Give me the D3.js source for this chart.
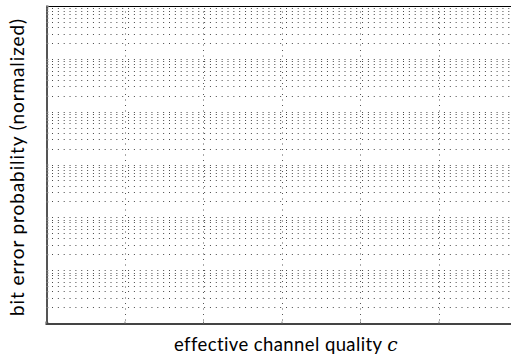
<!DOCTYPE html>
<html>
<head>
<meta charset="utf-8">
<script src="https://d3js.org/d3.v7.min.js"></script>
<style>
  body { margin: 0; background: #fff; }
  text { font-family: "Lato", "DejaVu Sans", sans-serif; fill: #000; }
</style>
</head>
<body>
<script>
// axis ranges (no series in this figure, just the empty grid)
var xMajor = [0, 1, 2, 3, 4, 5, 6];
var yDomain = [1e-6, 1];
var xLabel = "effective channel quality ";
var xLabelVar = "c";
var yLabel = "bit error probability (normalized)";

var width = 511,
    height = 355,
    margin = { top: 6, right: -6, bottom: 32, left: 46 };

var svg = d3.select("body").append("svg")
    .attr("width", width)
    .attr("height", height);

var x = d3.scaleLinear()
    .domain(d3.extent(xMajor))
    .range([margin.left, width - margin.right]);

var y = d3.scaleLog()
    .domain(yDomain)
    .range([height - margin.bottom, margin.top]);

// all decade + minor values for the horizontal grid
var yTicks = [];
for (var e = -6; e < 0; e++) {
    for (var k = 1; k < 10; k++) yTicks.push(k * Math.pow(10, e));
}
yTicks.push(1);

var grid = svg.append("g");

grid.selectAll("line.h")
    .data(yTicks)
    .enter().append("line")
    .attr("class", "h")
    .attr("x1", margin.left + 1)
    .attr("x2", width)
    .attr("y1", function (d) { return Math.round(y(d)) + 0.5; })
    .attr("y2", function (d) { return Math.round(y(d)) + 0.5; })
    .style("stroke", "#4a4a4a")
    .style("stroke-width", 1)
    .style("stroke-dasharray", "1 4.85")
    .style("stroke-dashoffset", -5);

grid.selectAll("line.v")
    .data(xMajor.slice(1))
    .enter().append("line")
    .attr("class", "v")
    .attr("x1", function (d) { return Math.round(x(d)) + 0.5; })
    .attr("x2", function (d) { return Math.round(x(d)) + 0.5; })
    .attr("y1", y(yDomain[1]))
    .attr("y2", y(yDomain[0]))
    .style("stroke", "#555")
    .style("stroke-width", 1)
    .style("stroke-dasharray", "1 4.5");

// frame: top line, left and bottom axes with small ticks and no labels
svg.append("line")
    .attr("x1", margin.left).attr("x2", width)
    .attr("y1", margin.top + 0.5).attr("y2", margin.top + 0.5)
    .style("stroke", "#000");

var yAxis = svg.append("g")
    .attr("transform", "translate(" + (margin.left + 0.5) + ",0)")
    .call(d3.axisRight(y).tickValues(yTicks).tickSize(2).tickFormat(""));
yAxis.select(".domain").style("stroke", "#555").style("stroke-width", 2);
yAxis.selectAll(".tick line").style("stroke", "#888");

var xAxis = svg.append("g")
    .attr("transform", "translate(0," + (y(yDomain[0]) + 0.5) + ")")
    .call(d3.axisTop(x).tickValues(xMajor).tickSize(2).tickFormat(""));
xAxis.select(".domain").style("stroke", "#444").style("stroke-width", 2);
xAxis.selectAll(".tick line").style("stroke", "#777");

svg.append("text")
    .attr("x", 286)
    .attr("y", 351)
    .attr("text-anchor", "middle")
    .style("font-size", "18.5px")
    .style("letter-spacing", "0.4px")
    .text(xLabel)
    .append("tspan")
    .style("font-family", "'DejaVu Serif', serif")
    .style("font-style", "italic")
    .text(xLabelVar);

svg.append("text")
    .attr("transform", "translate(24,167) rotate(-90)")
    .attr("text-anchor", "middle")
    .style("font-size", "19px")
    .style("letter-spacing", "0.9px")
    .text(yLabel);
</script>
</body>
</html>
